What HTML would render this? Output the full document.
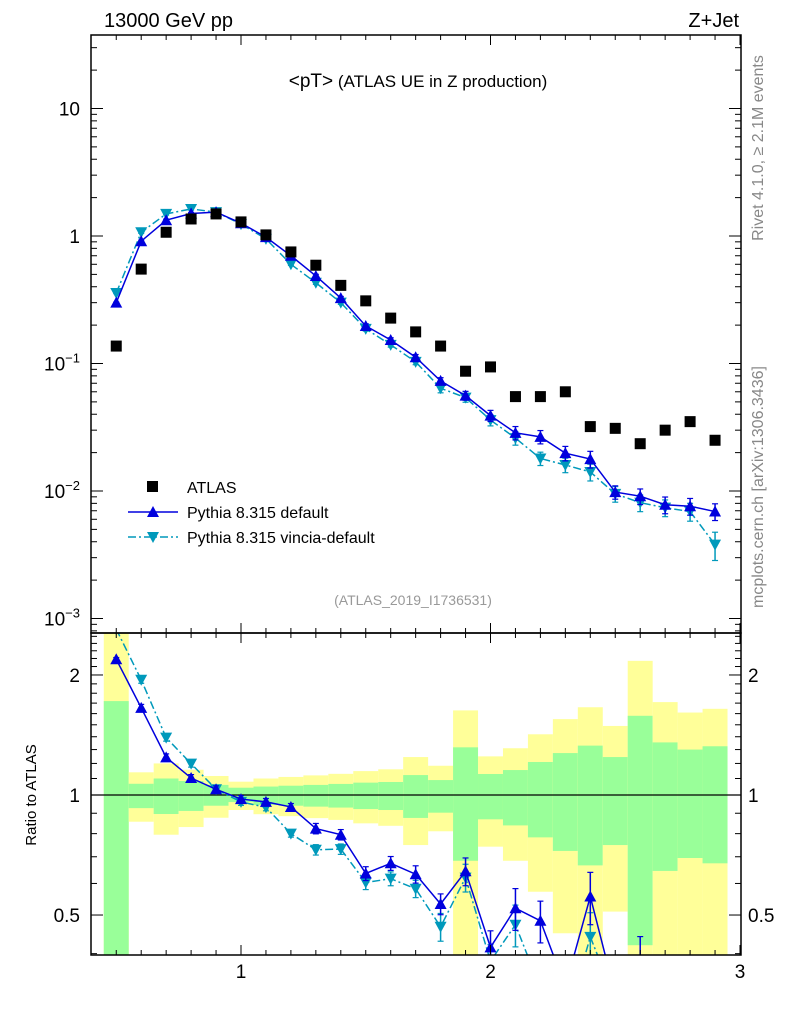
<!DOCTYPE html>
<html><head><meta charset="utf-8"><style>
html,body{margin:0;padding:0;background:#fff;overflow:hidden;width:786px;height:1024px;}
svg{display:block;font-family:"Liberation Sans",sans-serif;}
</style></head><body>
<svg id="c" width="786" height="1024" viewBox="0 0 786 1024" xmlns="http://www.w3.org/2000/svg">
<text x="104" y="27" font-size="20">13000 GeV pp</text>
<text x="739" y="27" font-size="20" text-anchor="end">Z+Jet</text>
<text x="418" y="87" font-size="17" text-anchor="middle"><tspan font-size="19">&lt;pT&gt;</tspan> (ATLAS UE in Z production)</text>
<text x="413" y="605" font-size="14" fill="#999" text-anchor="middle">(ATLAS_2019_I1736531)</text>
<text transform="translate(763,148) rotate(-90)" font-size="16" fill="#888" text-anchor="middle">Rivet 4.1.0, ≥ 2.1M events</text>
<text transform="translate(763,487) rotate(-90)" font-size="16" fill="#888" text-anchor="middle">mcplots.cern.ch [arXiv:1306.3436]</text>
<text transform="translate(36,795) rotate(-90)" font-size="15" text-anchor="middle">Ratio to ATLAS</text>
<g id="bands"></g><g id="series"></g><g id="axes"></g>
<g>
<rect x="147" y="481" width="11" height="11" fill="#000"/>
<text x="187" y="493" font-size="16">ATLAS</text>
<line x1="128" y1="512" x2="178" y2="512" stroke="#0000dd" stroke-width="1.5"/>
<polygon points="153,506 159,517 147,517" fill="#0000dd"/>
<text x="187" y="518" font-size="16">Pythia 8.315 default</text>
<line x1="128" y1="537" x2="178" y2="537" stroke="#0099bb" stroke-width="1.5" stroke-dasharray="8,3,2,3"/>
<polygon points="147,532 159,532 153,543" fill="#0099bb"/>
<text x="187" y="543" font-size="16">Pythia 8.315 vincia-default</text>
</g>
</svg>
<script>
const xCenters=[0.5,0.6,0.7,0.8,0.9,1.0,1.1,1.2,1.3,1.4,1.5,1.6,1.7,1.8,1.9,2.0,2.1,2.2,2.3,2.4,2.5,2.6,2.7,2.8,2.9];
const atlasVals=[0.137,0.55,1.07,1.36,1.49,1.29,1.02,0.75,0.59,0.41,0.31,0.227,0.177,0.137,0.087,0.094,0.055,0.055,0.060,0.032,0.031,0.0235,0.030,0.035,0.025];
const defaultVals=[0.30,0.91,1.33,1.5,1.54,1.26,0.98,0.70,0.486,0.326,0.197,0.153,0.112,0.073,0.056,0.039,0.0286,0.0266,0.0198,0.0178,0.0098,0.0091,0.0078,0.0076,0.0069];
const vinciaVals=[0.357,1.07,1.49,1.63,1.54,1.24,0.95,0.60,0.43,0.30,0.187,0.14,0.103,0.064,0.054,0.036,0.026,0.018,0.016,0.0141,0.0095,0.0081,0.0074,0.0069,0.0038];
const defaultErr=[0.01,0.02,0.02,0.02,0.02,0.02,0.02,0.02,0.03,0.03,0.04,0.04,0.05,0.06,0.08,0.1,0.12,0.12,0.13,0.15,0.12,0.14,0.15,0.15,0.15];
const vinciaErr=[0.01,0.02,0.02,0.02,0.02,0.02,0.02,0.02,0.03,0.03,0.04,0.04,0.05,0.08,0.08,0.1,0.12,0.12,0.13,0.15,0.14,0.15,0.15,0.16,0.25];
const yelUp=[2.6,1.14,1.20,1.157,1.116,1.08,1.10,1.11,1.12,1.13,1.148,1.16,1.245,1.184,1.63,1.25,1.31,1.42,1.55,1.66,1.49,2.17,1.71,1.61,1.645];
const grnUp=[1.72,1.067,1.10,1.084,1.06,1.043,1.05,1.055,1.06,1.066,1.074,1.078,1.122,1.09,1.317,1.129,1.155,1.21,1.274,1.33,1.245,1.58,1.355,1.30,1.325];
const grnLo=[0.3,0.927,0.896,0.912,0.94,0.96,0.944,0.94,0.935,0.93,0.922,0.917,0.876,0.903,0.684,0.869,0.839,0.783,0.724,0.666,0.749,0.42,0.645,0.695,0.674];
const yelLo=[0.3,0.857,0.795,0.831,0.877,0.917,0.895,0.885,0.875,0.866,0.849,0.837,0.749,0.811,0.3,0.742,0.684,0.572,0.45,0.3,0.51,0.3,0.3,0.3,0.3];
const xTickLabels=["1","2","3"];
const mainTickLabels=["10","1","10","10","10"];

const NS="http://www.w3.org/2000/svg";
const L=91,R=741,T=35,MB=633,B=955;
const X=v=>241+(v-1)*249.5;
const Ym=v=>236-Math.log10(v)*127.5;
const Yr=v=>795-Math.log10(v)*398.7;
function mk(p,tag,at){const e=document.createElementNS(NS,tag);for(const k in at)e.setAttribute(k,at[k]);p.appendChild(e);return e;}
const bands=document.getElementById('bands'),ser=document.getElementById('series'),ax=document.getElementById('axes');
const yClip=y=>Math.min(Math.max(y,MB),B);
xCenters.forEach((x,i)=>{
  const x0=X(x-0.05),x1=X(x+0.05);
  let ya=yClip(Yr(yelUp[i])),yb=yClip(Yr(yelLo[i]));
  let r=mk(bands,'rect',{x:x0,y:ya,width:x1-x0,height:yb-ya,fill:'#ffff99'});
  
  
  ya=yClip(Yr(grnUp[i]));yb=yClip(Yr(grnLo[i]));
  r=mk(bands,'rect',{x:x0,y:ya,width:x1-x0,height:yb-ya,fill:'#99ff99'});
  
  
});
const defs=mk(ser,'defs',{});
const cp1=mk(defs,'clipPath',{id:'cm'});mk(cp1,'rect',{x:L,y:T,width:R-L,height:MB-T});
const cp2=mk(defs,'clipPath',{id:'cr'});mk(cp2,'rect',{x:L,y:MB,width:R-L,height:B-MB});
const gm=mk(ser,'g',{'clip-path':'url(#cm)'}),gr=mk(ser,'g',{'clip-path':'url(#cr)'});
mk(gr,'line',{x1:L,y1:Yr(1),x2:R,y2:Yr(1),stroke:'#000','stroke-width':1.2});
function drawSeries(vals,errs,color,dash,up,name){
  [[gm,vals.map(v=>Ym(v)),vals.map((v,i)=>[Ym(v*(1+errs[i])),Ym(v*(1-errs[i]))])],
   [gr,vals.map((v,i)=>Yr(v/atlasVals[i])),vals.map((v,i)=>[Yr(v*(1+errs[i])/atlasVals[i]),Yr(v*(1-errs[i])/atlasVals[i])])]].forEach(([g,ys,es],k)=>{
    const pl=mk(g,'polyline',{points:xCenters.map((x,i)=>X(x)+','+ys[i]).join(' '),fill:'none',stroke:color,'stroke-width':1.5});
    if(dash)pl.setAttribute('stroke-dasharray',dash);
    
    
    xCenters.forEach((x,i)=>{
      const cx=X(x),cy=ys[i];
      mk(g,'line',{x1:cx,y1:es[i][0],x2:cx,y2:es[i][1],stroke:color,'stroke-width':1.5});
      mk(g,'line',{x1:cx-3,y1:es[i][0],x2:cx+3,y2:es[i][0],stroke:color,'stroke-width':1.2});
      mk(g,'line',{x1:cx-3,y1:es[i][1],x2:cx+3,y2:es[i][1],stroke:color,'stroke-width':1.2});
      const pts=up?`${cx},${cy-6} ${cx+6},${cy+5} ${cx-6},${cy+5}`:`${cx-6},${cy-5} ${cx+6},${cy-5} ${cx},${cy+6}`;
      const m=mk(g,'polygon',{points:pts,fill:color});
      
      
    });
  });
}
drawSeries(vinciaVals,vinciaErr,'#0099bb','8,3,2,3',false,'vincia');
drawSeries(defaultVals,defaultErr,'#0000dd',null,true,'default');
xCenters.forEach((x,i)=>{
  const m=mk(gm,'rect',{x:X(x)-5.5,y:Ym(atlasVals[i])-5.5,width:11,height:11,fill:'#000'});
  
  
});
[[T,MB],[MB,B]].forEach(([a,b],k)=>{
  const f=mk(ax,'rect',{x:L,y:a,width:R-L,height:b-a,fill:'none',stroke:'#000','stroke-width':1.5});
  
  
  for(let v=0.5;v<=3.001;v+=0.1){
    const xx=X(v),maj=Math.abs(v-Math.round(v))<1e-6,len=maj?10:5;
    mk(ax,'line',{x1:xx,y1:a,x2:xx,y2:a+len,stroke:'#000','stroke-width':1});
    mk(ax,'line',{x1:xx,y1:b,x2:xx,y2:b-len,stroke:'#000','stroke-width':1});
  }
});
for(let e=-4;e<=1;e++)for(let m=1;m<=9;m++){
  const v=m*Math.pow(10,e),y=Ym(v);if(y<T||y>MB)continue;
  const len=m==1?12:6;
  mk(ax,'line',{x1:L,y1:y,x2:L+len,y2:y,stroke:'#000'});
  mk(ax,'line',{x1:R,y1:y,x2:R-len,y2:y,stroke:'#000'});
}
[10,1,0.1,0.01,0.001].forEach((v,i)=>{
  const t=mk(ax,'text',{x:80,y:Ym(v)+7,'font-size':19,'text-anchor':'end'});
  t.textContent=mainTickLabels[i];
  if(i>=2){const s=mk(t,'tspan',{'font-size':13,dy:-8});s.textContent='−'+(i-1);}
  
  
});
for(let v=0.4;v<=2.55;v+=0.1){
  const y=Yr(v);if(y<MB||y>B)continue;
  const maj=[0.5,1,2].some(m=>Math.abs(m-v)<1e-6),len=maj?12:6;
  mk(ax,'line',{x1:L,y1:y,x2:L+len,y2:y,stroke:'#000'});
  mk(ax,'line',{x1:R,y1:y,x2:R-len,y2:y,stroke:'#000'});
}
[[0.5,'0.5'],[1,'1'],[2,'2']].forEach(([v,s])=>{
  let t=mk(ax,'text',{x:80,y:Yr(v)+7,'font-size':19,'text-anchor':'end'});t.textContent=s;
  
  
  t=mk(ax,'text',{x:748,y:Yr(v)+7,'font-size':19});t.textContent=s;
  
  
});
[1,2,3].forEach((v,i)=>{
  const t=mk(ax,'text',{x:X(v),y:978,'font-size':19,'text-anchor':'middle'});t.textContent=xTickLabels[i];
  
  
});
</script>
</body></html>
